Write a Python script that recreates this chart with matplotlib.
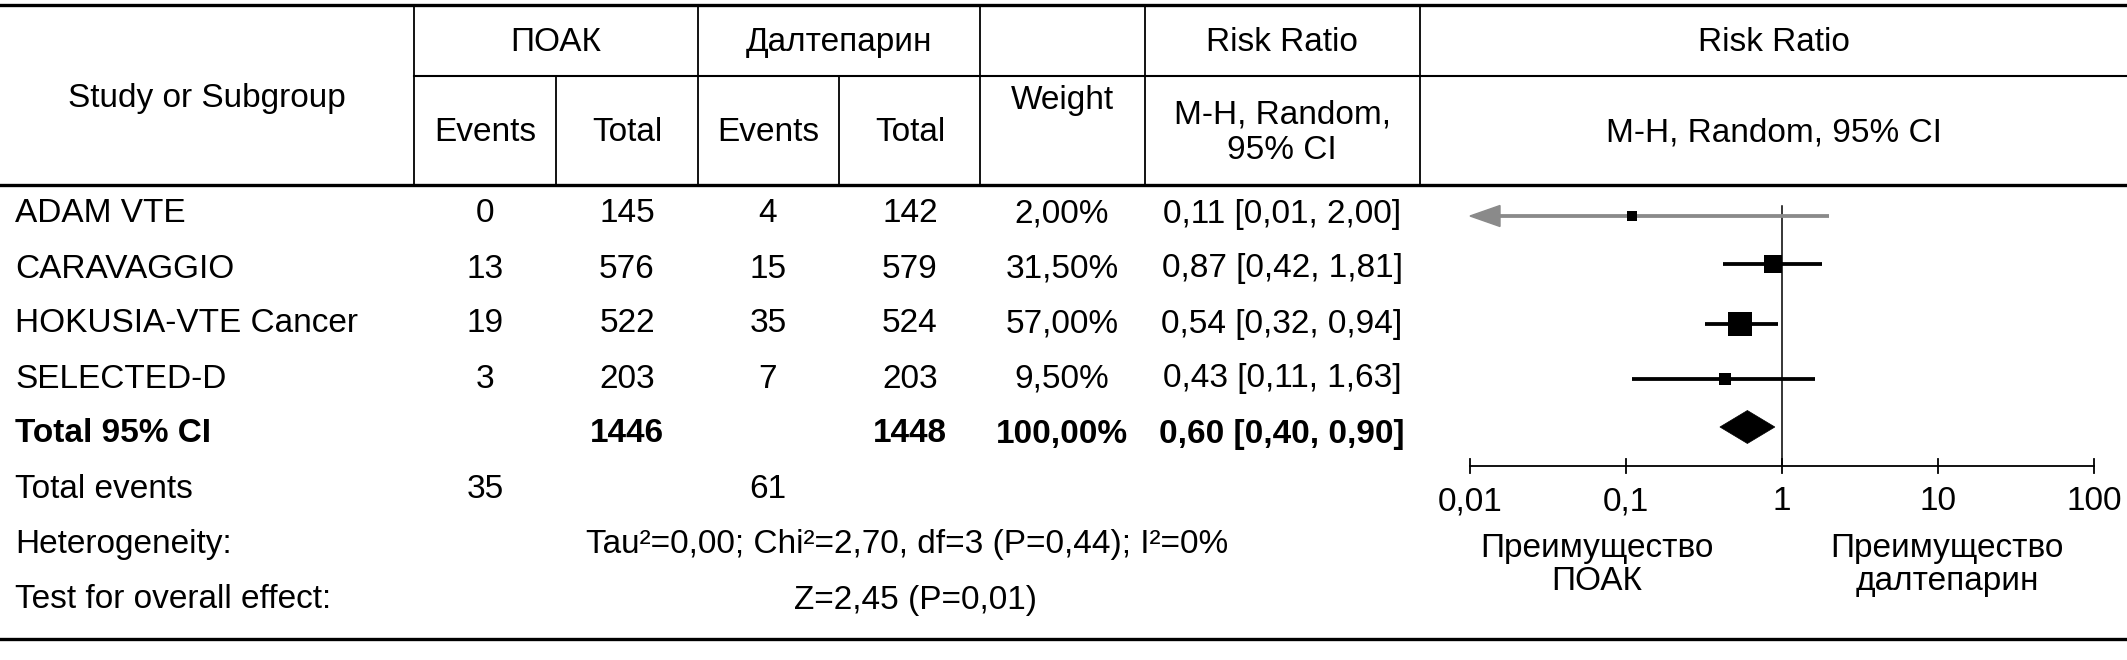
import numpy as np
import matplotlib
matplotlib.use("Agg")
import matplotlib.pyplot as plt
from matplotlib.patches import Polygon

plt.rcParams['font.family'] = ['Liberation Sans', 'DejaVu Sans']

# ---------------- data ----------------
studies = ["ADAM VTE", "CARAVAGGIO", "HOKUSIA-VTE Cancer", "SELECTED-D"]
doac_events = [0, 13, 19, 3]
doac_total = [145, 576, 522, 203]
dalt_events = [4, 15, 35, 7]
dalt_total = [142, 579, 524, 203]
weights = [2.00, 31.50, 57.00, 9.50]
rr = [0.11, 0.87, 0.54, 0.43]
rr_lo = [0.01, 0.42, 0.32, 0.11]
rr_hi = [2.00, 1.81, 0.94, 1.63]

total_doac = 1446
total_dalt = 1448
total_weight = 100.00
total_rr, total_lo, total_hi = 0.60, 0.40, 0.90
total_events_doac = 35
total_events_dalt = 61
heterogeneity = "Tau²=0,00; Chi²=2,70, df=3 (P=0,44); I²=0%"
overall = "Z=2,45 (P=0,01)"
tick_values = [0.01, 0.1, 1, 10, 100]
tick_labels = ["0,01", "0,1", "1", "10", "100"]

def fmt(v, d=2):
    return f"{v:.{d}f}".replace(".", ",")

# ---------------- figure ----------------
W, H = 2127, 660
fig = plt.figure(figsize=(W / 100, H / 100), dpi=100)
tab = fig.add_axes([0, 0, 1, 1])
tab.set_xlim(0, W)
tab.set_ylim(H, 0)
tab.axis("off")

FS = 24
txt = dict(fontsize=FS, color="black")

# column layout (pixels)
c_ev1, c_tot1, c_ev2, c_tot2, c_w, c_rr = 485, 627, 768, 910, 1062, 1282
y_top, y_mid, y_hdr, y_bot = 5, 76, 185, 639

# table lines
tab.plot([0, W], [y_top, y_top], color="black", lw=2.4)
tab.plot([0, W], [y_hdr, y_hdr], color="black", lw=2.4)
tab.plot([0, W], [y_bot, y_bot], color="black", lw=2.4)
tab.plot([414, W], [y_mid, y_mid], color="black", lw=1.5)
for x in [414, 698, 980, 1145, 1420]:
    tab.plot([x, x], [y_top, y_hdr], color="black", lw=1.3)
for x in [556, 839]:
    tab.plot([x, x], [y_mid, y_hdr], color="black", lw=1.3)

# header text
ym1 = (y_top + y_mid) / 2 + 2
ym2 = (y_mid + y_hdr) / 2 + 2
yc = (y_top + y_hdr) / 2 + 3
tab.text(207, yc, "Study or Subgroup", ha="center", va="center", **txt)
tab.text((414 + 698) / 2, ym1, "ПОАК", ha="center", va="center", **txt)
tab.text((698 + 980) / 2, ym1, "Далтепарин", ha="center", va="center", **txt)
tab.text(c_ev1, ym2, "Events", ha="center", va="center", **txt)
tab.text(c_tot1, ym2, "Total", ha="center", va="center", **txt)
tab.text(c_ev2, ym2, "Events", ha="center", va="center", **txt)
tab.text(c_tot2, ym2, "Total", ha="center", va="center", **txt)
tab.text(c_w, yc + 2, "Weight", ha="center", va="center", **txt)
tab.text(c_rr, ym1, "Risk Ratio", ha="center", va="center", **txt)
tab.text(c_rr, ym2, "M-H, Random,\n95% CI", ha="center", va="center",
         linespacing=1.2, **txt)
tab.text((1420 + W) / 2, ym1, "Risk Ratio", ha="center", va="center", **txt)
tab.text((1420 + W) / 2, ym2, "M-H, Random, 95% CI", ha="center", va="center", **txt)

# rows
row_y = [214, 269, 324, 379]
y_total = 434
y_tev, y_het, y_test = 489, 544, 600

for i, s in enumerate(studies):
    y = row_y[i]
    tab.text(15, y, s, ha="left", va="center", **txt)
    tab.text(c_ev1, y, str(doac_events[i]), ha="center", va="center", **txt)
    tab.text(c_tot1, y, str(doac_total[i]), ha="center", va="center", **txt)
    tab.text(c_ev2, y, str(dalt_events[i]), ha="center", va="center", **txt)
    tab.text(c_tot2, y, str(dalt_total[i]), ha="center", va="center", **txt)
    tab.text(c_w, y, fmt(weights[i]) + "%", ha="center", va="center", **txt)
    tab.text(c_rr, y, f"{fmt(rr[i])} [{fmt(rr_lo[i])}, {fmt(rr_hi[i])}]",
             ha="center", va="center", **txt)

bold = dict(fontsize=FS, color="black", fontweight="bold")
tab.text(15, y_total, "Total 95% CI", ha="left", va="center", **bold)
tab.text(c_tot1, y_total, str(total_doac), ha="center", va="center", **bold)
tab.text(c_tot2, y_total, str(total_dalt), ha="center", va="center", **bold)
tab.text(c_w, y_total, fmt(total_weight) + "%", ha="center", va="center", **bold)
tab.text(c_rr, y_total, f"{fmt(total_rr)} [{fmt(total_lo)}, {fmt(total_hi)}]",
         ha="center", va="center", **bold)

tab.text(15, y_tev, "Total events", ha="left", va="center", **txt)
tab.text(c_ev1, y_tev, str(total_events_doac), ha="center", va="center", **txt)
tab.text(c_ev2, y_tev, str(total_events_dalt), ha="center", va="center", **txt)
tab.text(15, y_het, "Heterogeneity:", ha="left", va="center", **txt)
tab.text(907, y_het, heterogeneity, ha="center", va="center", **txt)
tab.text(15, y_test, "Test for overall effect:", ha="left", va="center", **txt)
tab.text(916, y_test, overall, ha="center", va="center", **txt)

# ---------------- forest plot ----------------
fx0 = 1420
fax = fig.add_axes([fx0 / W, 0, (W - fx0) / W, 1])
dec = 156.0          # pixels per decade
x_one = 1782.0       # pixel of RR = 1
fax.set_xscale("log")
fax.set_xlim(10 ** ((fx0 - x_one) / dec), 10 ** ((W - x_one) / dec))
fax.set_ylim(H, 0)
fax.axis("off")

y_axis = 466
fax.plot([1, 1], [206, y_axis], color="black", lw=1.1, zorder=1)
fax.plot([tick_values[0], tick_values[-1]], [y_axis, y_axis], color="black", lw=1.3)
for tv, tl in zip(tick_values, tick_labels):
    fax.plot([tv, tv], [y_axis - 7, y_axis + 7], color="black", lw=1.3)
    fax.text(tv, 502, tl, ha="center", va="center", **txt)

fax.text(10 ** ((1597 - x_one) / dec), 565, "Преимущество\nПОАК", ha="center",
         va="center", linespacing=1.05, **txt)
fax.text(10 ** ((1947 - x_one) / dec), 565, "Преимущество\nдалтепарин", ha="center",
         va="center", linespacing=1.05, **txt)

xmin_plot = tick_values[0]
px = 72 / 100  # points per pixel
for i in range(len(studies)):
    y = row_y[i] + (2 if i == 0 else -5 if i == 1 else 0)
    size_px = 10 + 14 * (weights[i] - min(weights)) / (max(weights) - min(weights))
    if rr_lo[i] <= xmin_plot:
        col = "#8a8a8a"
        fax.plot([xmin_plot * 10 ** (25 / dec), rr_hi[i]], [y, y], color=col,
                 lw=3.8 * px, solid_capstyle="butt", zorder=2)
        tip = xmin_plot
        base = xmin_plot * 10 ** (30 / dec)
        fax.add_patch(Polygon([[tip, y], [base, y - 10.5], [base, y + 10.5]],
                              closed=True, facecolor=col, edgecolor=col, zorder=2))
    else:
        fax.plot([rr_lo[i], rr_hi[i]], [y, y], color="black", lw=3.8 * px,
                 solid_capstyle="butt", zorder=2)
    fax.plot([rr[i]], [y], marker="s", markersize=size_px * px, color="black",
             markeredgewidth=0, zorder=3)

# diamond for total
yd = 427
hh = 16.5
fax.add_patch(Polygon([[total_lo, yd], [total_rr, yd - hh], [total_hi, yd],
                       [total_rr, yd + hh]], closed=True, facecolor="black",
                      edgecolor="black", lw=0.5, zorder=3))

fig.savefig("out.png", dpi=100)
